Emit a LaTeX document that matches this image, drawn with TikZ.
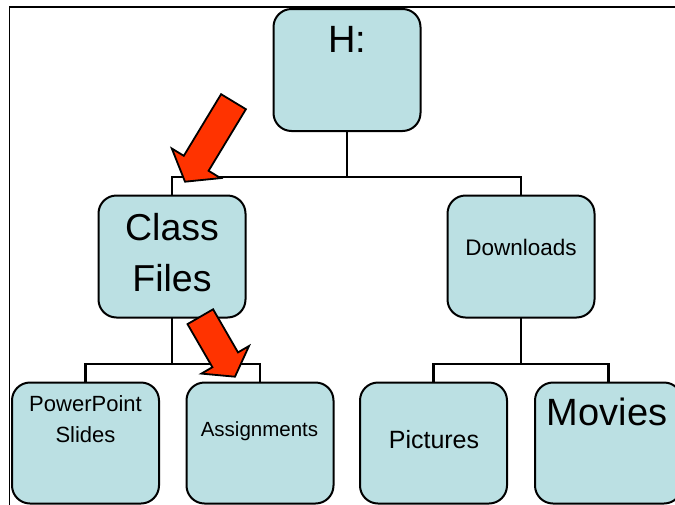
\documentclass[tikz,border=0pt]{standalone}
\usepackage{fontspec}
\setmainfont{Liberation Sans}
\definecolor{boxfill}{RGB}{187,224,227}
\definecolor{arrowred}{RGB}{255,51,0}
\pgfdeclarelayer{bg}
\pgfsetlayers{bg,main}
\begin{document}
\begin{tikzpicture}[x=1pt,y=-1pt,
  box/.style={draw=black, line width=2pt, fill=boxfill, rounded corners=18pt,
    minimum width=147pt, minimum height=122pt, inner sep=0pt, outer sep=0pt, anchor=north west},
  lowbox/.style={box, minimum height=121pt},
  conn/.style={line width=2.2pt},
  lbl/.style={anchor=base, inner sep=0pt},
  blockarrow/.style={fill=arrowred, draw=black, line width=1.8pt, line join=miter}]
\useasboundingbox (0,0) rectangle (675,504);
\clip (0,0) rectangle (675,504);
% boxes
\node[box] (h) at (273.5,9) {};
\node[box] (cf) at (98.5,195.5) {};
\node[box] (dl) at (447.5,195.5) {};
\node[lowbox] (pp) at (12,382.5) {};
\node[lowbox] (as) at (186.5,382.5) {};
\node[lowbox] (pi) at (360,382.5) {};
\node[lowbox] (mv) at (535,382.5) {};
% connector junctions
\coordinate (ytop) at (0,177);
\coordinate (ylow) at (0,364);
\coordinate (hb) at (h.south |- ytop);
\coordinate (cb) at (cf.south |- ylow);
\coordinate (db) at (dl.south |- ylow);
% frame and connectors, behind the boxes
\begin{pgfonlayer}{bg}
\draw[line width=1.6pt] (9.5,7) rectangle (720,540);
\draw[conn] (h.south) -- (hb);
\draw[conn] (cf.north) |- (hb) -| (dl.north);
\draw[conn] (cf.south) -- (cb);
\draw[conn] (pp.north) |- (cb) -| (as.north);
\draw[conn] (dl.south) -- (db);
\draw[conn] (pi.north) |- (db) -| (mv.north);
\end{pgfonlayer}
% texts
\node[lbl, font=\fontsize{38}{44}\selectfont] at (347,52.5) {H:};
\node[lbl, font=\fontsize{37.5}{44}\selectfont] at (172,240) {Class};
\node[lbl, font=\fontsize{37.5}{44}\selectfont] at (172,291.5) {Files};
\node[lbl, font=\fontsize{22.5}{27}\selectfont] at (521,255) {Downloads};
\node[lbl, font=\fontsize{22}{27}\selectfont] at (85.5,411.5) {PowerPoint};
\node[lbl, font=\fontsize{22}{27}\selectfont] at (85.5,442.5) {Slides};
\node[lbl, font=\fontsize{20.5}{25}\selectfont] at (259.5,436.5) {Assignments};
\node[lbl, font=\fontsize{25}{30}\selectfont] at (434,448.3) {Pictures};
\node[lbl, font=\fontsize{38}{44}\selectfont] at (607,425) {Movies};
% block arrows
\draw[blockarrow] (221.1,94.2) -- (245.9,109.2) -- (208.6,170.8) -- (220.6,178.1)
  -- (185,181.7) -- (171.8,148.5) -- (183.8,155.8) -- cycle;
\draw[blockarrow] (213.1,309.3) -- (238.0,352.4) -- (249.0,346.0) -- (235,376.7)
  -- (201.4,373.6) -- (212.4,367.2) -- (187.5,324.1) -- cycle;
\end{tikzpicture}
\end{document}
